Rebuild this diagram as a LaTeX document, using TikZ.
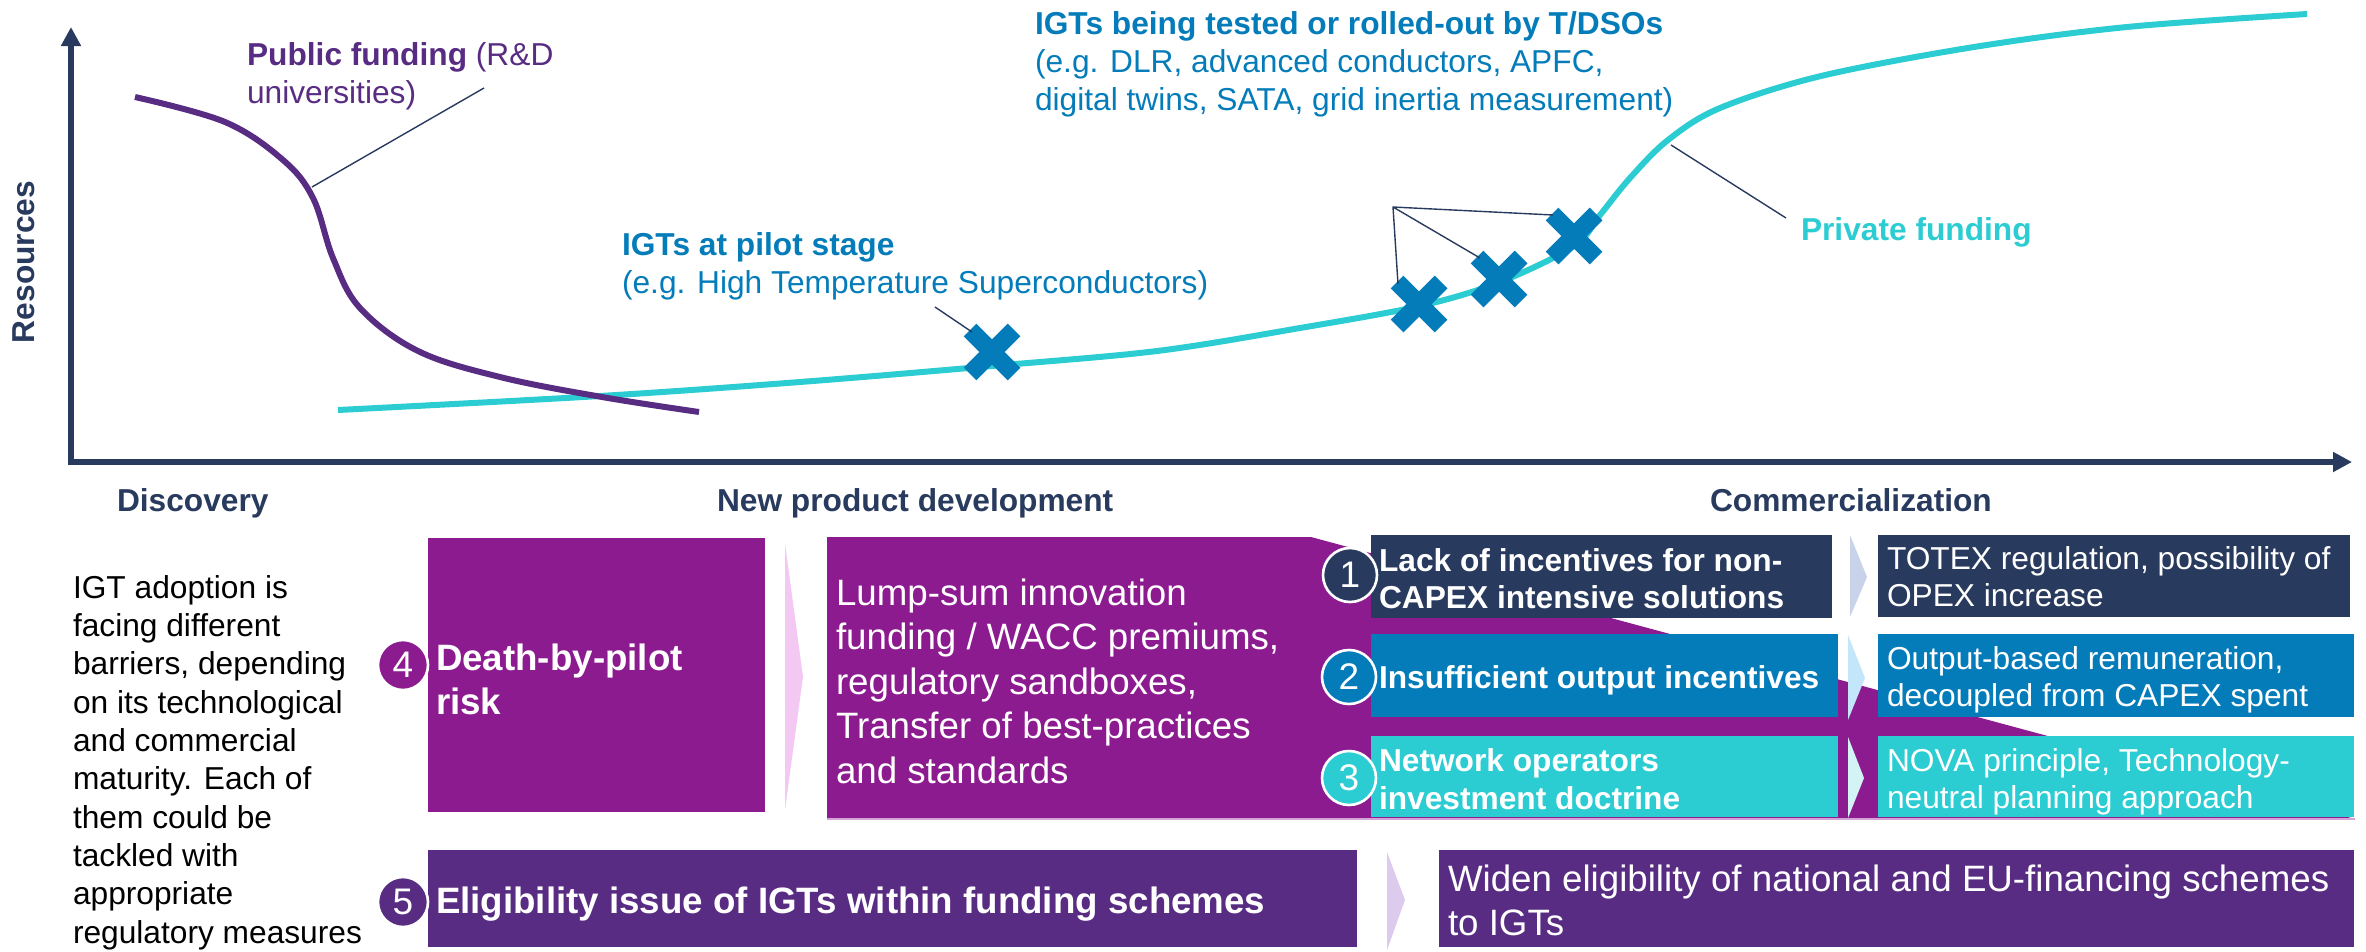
\documentclass[tikz,border=0pt]{standalone}
\usepackage{fontspec}
\setmainfont{Liberation Sans}
\usetikzlibrary{arrows.meta}
\definecolor{navy}{HTML}{283A5E}
\definecolor{bpurp}{HTML}{8D1B90}
\definecolor{dpurp}{HTML}{582C83}
\definecolor{blueX}{HTML}{047CBA}
\definecolor{cyanc}{HTML}{2CCCD3}
\definecolor{chevpink}{HTML}{F3C8F3}
\definecolor{chevone}{HTML}{C8D2E8}
\definecolor{chevtwo}{HTML}{C3E6FA}
\definecolor{chevthree}{HTML}{D4F3F4}
\definecolor{chevfive}{HTML}{DDCBEE}
\definecolor{lpurp}{HTML}{D6A3D8}
\begin{document}
\begin{tikzpicture}[x=1pt,y=-1pt,
  txt/.style={inner sep=0pt, outer sep=0pt, anchor=north west, align=left},
  fA/.style={font=\fontsize{31.7}{38}\selectfont},
  fAb/.style={font=\fontsize{31.7}{38}\selectfont\bfseries},
  fAc/.style={font=\fontsize{31.7}{37}\selectfont},
  fAcb/.style={font=\fontsize{31.7}{37}\selectfont\bfseries},
  fB/.style={font=\fontsize{36.7}{44}\selectfont},
  fBb/.style={font=\fontsize{36.7}{44}\selectfont\bfseries},
  leader/.style={draw=navy, line width=1.4pt},
  axis/.style={draw=navy, line width=6pt, -{Triangle[length=19pt,width=19pt]}},
  numc/.style={circle, draw=white, line width=2.6pt, text=white, inner sep=0pt,
    font=\fontsize{37}{37}\selectfont},
  xmark/.pic={\draw[blueX, line width=18pt] (-22,-22) -- (22,22) (-22,22) -- (22,-22);}
]
\useasboundingbox (0,0) rectangle (2366,951);

% ---------- axes ----------
\coordinate (origin) at (71,462);
\coordinate (ytip) at (71,27);
\coordinate (xtip) at (2352,462);
\draw[axis] (68,462) -- (xtip);
\draw[axis] (71,465) -- (ytip);
\node[rotate=90, inner sep=0pt, text=navy, fAb] (resources) at (24,262) {Resources};

% ---------- curves ----------
\draw[cyanc, line width=6pt] plot[smooth, tension=0.55] coordinates {
 (338,410) (600,396) (800,382) (992,366) (1157,351) (1300,328) (1420,306)
 (1500,282) (1574,246) (1600,215) (1630,178) (1668,140) (1720,108) (1821,76)
 (1974,47) (2127,27) (2307,14)};
\draw[dpurp, line width=6pt] plot[smooth, tension=0.6] coordinates {
 (135,97) (225,122) (283,160) (313,198) (333,258) (360,308)
 (418,351) (500,377) (602,397) (699,412)};

% ---------- X markers ----------
\coordinate (x1) at (992,352);
\coordinate (x2) at (1419,304);
\coordinate (x3) at (1499,279);
\coordinate (x4) at (1574,236);
\pic at (x1) {xmark};
\pic at (x2) {xmark};
\pic at (x3) {xmark};
\pic at (x4) {xmark};

% ---------- chart labels ----------
\node[txt, fA, text=dpurp] (pubLbl) at (247,38.75)
  {\strut\textbf{Public funding} (R\&D\\universities)};
\node[txt, fA, text=blueX] (pilotLbl) at (622,228.75)
  {\strut\textbf{IGTs at pilot stage}\\(e.g. High Temperature Superconductors)};
\node[txt, fA, text=blueX] (testLbl) at (1035,7.75)
  {\strut\textbf{IGTs being tested or rolled-out by T/DSOs}\\(e.g. DLR, advanced conductors, APFC,\\digital twins, SATA, grid inertia measurement)};
\node[txt, fAb, text=cyanc] (privLbl) at (1801,213.75) {\strut Private funding};

% ---------- leaders ----------
\coordinate (pubA) at (312,187);
\coordinate (pubB) at (484,88);
\draw[leader] (pubA) -- (pubB);
\coordinate (pilA) at (935,307);
\coordinate (pilB) at (972,332);
\draw[leader] (pilA) -- (pilB);
\coordinate (tv) at (1393,207);
\coordinate (t2) at (1398,284);
\coordinate (t3) at (1480,258);
\coordinate (t4) at (1553,215);
\draw[leader] (t2) -- (tv) -- (t4) (tv) -- (t3);
\coordinate (prA) at (1671,145);
\coordinate (prB) at (1786,218);
\draw[leader] (prA) -- (prB);

% ---------- phase labels ----------
\node[txt, fAb, text=navy] (disc) at (117,484.75) {\strut Discovery};
\node[txt, fAb, text=navy] (npd) at (717,484.75) {\strut New product development};
\node[txt, fAb, text=navy] (comm) at (1710,484.75) {\strut Commercialization};

\node[txt, font=\fontsize{31.7}{38.3}\selectfont, text=black] (intro) at (73,571.5)
  {\strut IGT adoption is\\facing different\\barriers, depending\\on its technological\\and commercial\\maturity. Each of\\them could be\\tackled with\\appropriate\\regulatory measures};

% ---------- barrier 4 ----------
\fill[bpurp] (428,538) rectangle (765,812);
\node[txt, fBb, text=white] (death) at (436,639.3) {\strut Death-by-pilot\\risk};
\fill[chevpink] (785,543) -- (803,677) -- (785,810) -- cycle;

% ---------- lump-sum and trapezoid ----------
\fill[bpurp] (827,537) -- (1311,537) -- (2355,819) -- (827,819) -- cycle;
\draw[lpurp, line width=1.5pt] (827,819) -- (2355,819);
\node[txt, font=\fontsize{36.7}{44.5}\selectfont, text=white] (lump) at (836,574)
  {\strut Lump-sum innovation\\funding / WACC premiums,\\regulatory sandboxes,\\Transfer of best-practices\\and standards};

% ---------- barriers 1-3 ----------
\fill[navy] (1371,535) rectangle (1832,618);
\fill[blueX] (1371,634) rectangle (1838,717);
\fill[cyanc] (1371,736) rectangle (1838,817);
\node[txt, fAcb, text=white] (b1) at (1379,545.45) {\strut Lack of incentives for non-\\CAPEX intensive solutions};
\node[txt, fAb, text=white] (b2) at (1379,661.75) {\strut Insufficient output incentives};
\node[txt, fAb, text=white] (b3) at (1379,744.75) {\strut Network operators\\investment doctrine};

\fill[chevone] (1850,535) -- (1867,577) -- (1850,617) -- cycle;
\fill[chevtwo] (1848,635) -- (1865,678) -- (1848,720) -- cycle;
\fill[chevthree] (1848,737) -- (1864,778) -- (1848,818) -- cycle;

\fill[navy] (1878,535) rectangle (2350,617);
\fill[blueX] (1878,634) rectangle (2354,717);
\fill[cyanc] (1878,736) rectangle (2354,817);
\node[txt, fAc, text=white] (r1) at (1887,543.45) {\strut TOTEX regulation, possibility of\\OPEX increase};
\node[txt, fAc, text=white] (r2) at (1887,643.45) {\strut Output-based remuneration,\\decoupled from CAPEX spent};
\node[txt, fAc, text=white] (r3) at (1887,745.45) {\strut NOVA principle, Technology-\\neutral planning approach};

% ---------- barrier 5 ----------
\fill[dpurp] (428,850) rectangle (1357,947);
\node[txt, fBb, text=white] (b5) at (436,882.3) {\strut Eligibility issue of IGTs within funding schemes};
\fill[chevfive] (1387,852) -- (1405,900) -- (1387,950) -- cycle;
\fill[dpurp] (1439,850) rectangle (2354,947);
\node[txt, fB, text=white] (widen) at (1448,860.3) {\strut Widen eligibility of national and EU-financing schemes\\to IGTs};

% ---------- number circles ----------
\node[numc, fill=bpurp, minimum size=50pt] (c4) at (403,665) {4};
\node[numc, fill=dpurp, minimum size=50pt] (c5) at (403,902) {5};
\node[numc, fill=navy, minimum size=54pt] (c1) at (1350,575) {1};
\node[numc, fill=blueX, minimum size=54pt] (c2) at (1349,677) {2};
\node[numc, fill=cyanc, minimum size=54pt] (c3) at (1349,778) {3};
\end{tikzpicture}
\end{document}
